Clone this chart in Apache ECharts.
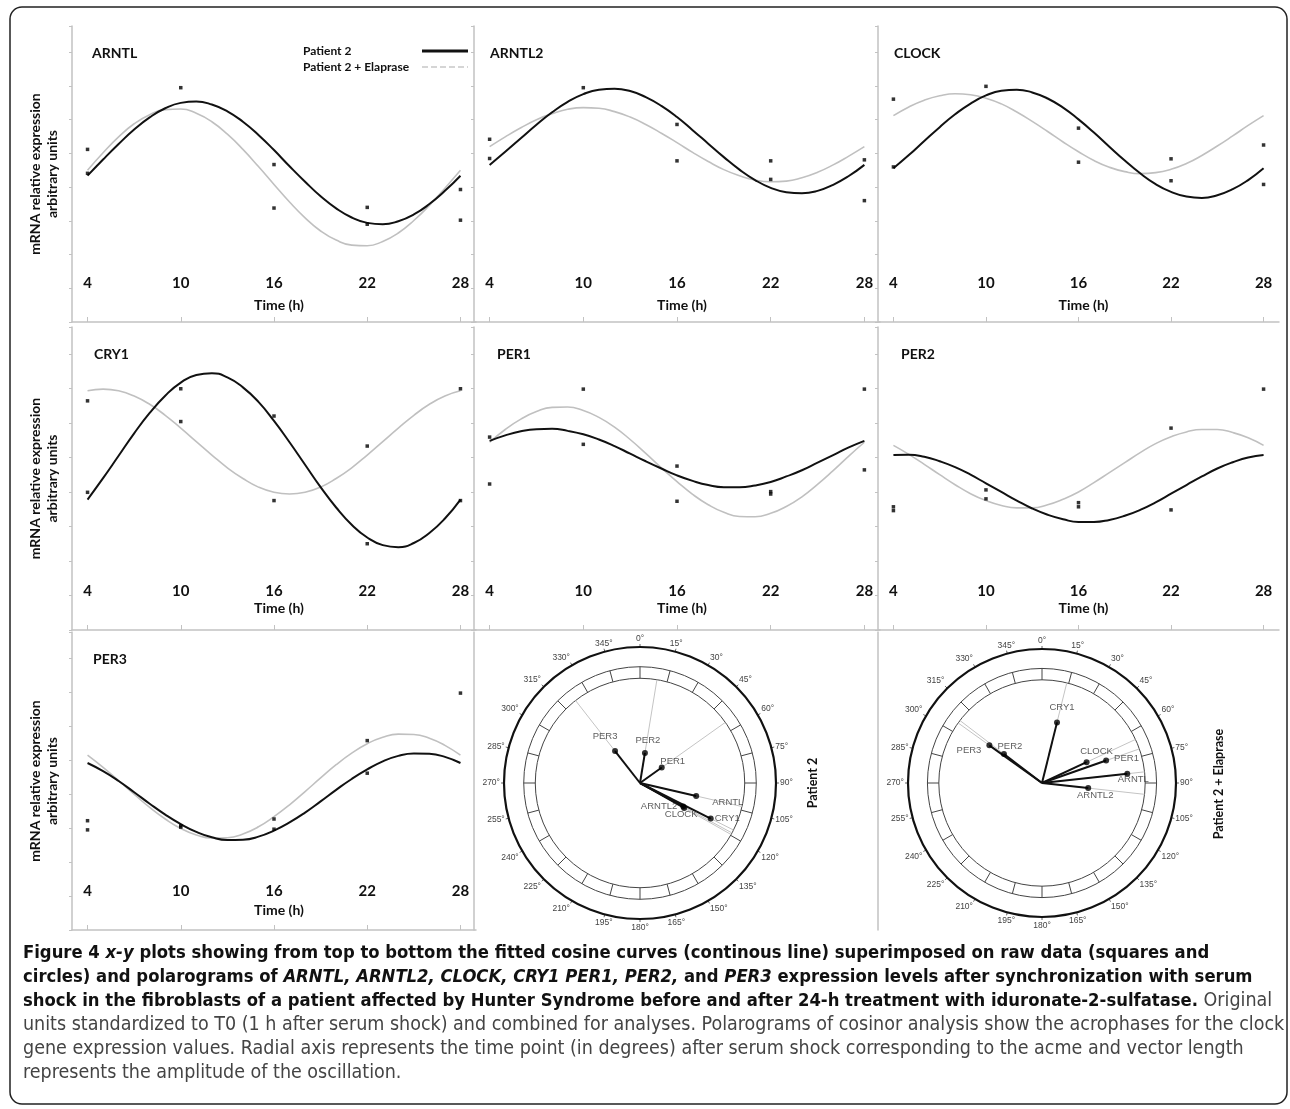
<!DOCTYPE html>
<html>
<head>
<meta charset="utf-8" />
<title>Figure 4</title>
<script src="https://cdn.jsdelivr.net/npm/echarts@6/dist/echarts.min.js"></script>
<style>
  html, body { margin: 0; padding: 0; background: #fff; }
  #main { width: 1290px; height: 1109px; }
</style>
</head>
<body>
<div id="main"></div>
<script>
// hourly sampling of the fitted cosine curves (h)
const hours = [4, 5, 6, 7, 8, 9, 10, 11, 12, 13, 14, 15, 16, 17, 18, 19, 20, 21, 22, 23, 24, 25, 26, 27, 28];
const timeTicks = [4, 10, 16, 22, 28];

// fitted curves (arbitrary units)
const arntlP2   = [4.34, 4.82, 5.28, 5.71, 6.07, 6.34, 6.50, 6.54, 6.45, 6.25, 5.94, 5.55, 5.10, 4.62, 4.16, 3.73, 3.37, 3.10, 2.94, 2.90, 2.99, 3.19, 3.50, 3.89, 4.34];
const arntlEla  = [4.50, 5.02, 5.49, 5.88, 6.15, 6.30, 6.32, 6.19, 5.94, 5.57, 5.12, 4.61, 4.08, 3.56, 3.09, 2.70, 2.43, 2.28, 2.26, 2.39, 2.64, 3.01, 3.46, 3.97, 4.50];
const arntl2P2  = [4.66, 5.05, 5.45, 5.85, 6.22, 6.53, 6.76, 6.89, 6.92, 6.85, 6.67, 6.41, 6.08, 5.69, 5.29, 4.89, 4.52, 4.21, 3.98, 3.85, 3.82, 3.89, 4.07, 4.33, 4.66];
const arntl2Ela = [5.20, 5.49, 5.76, 6.00, 6.18, 6.31, 6.36, 6.34, 6.24, 6.08, 5.86, 5.60, 5.32, 5.03, 4.76, 4.52, 4.34, 4.21, 4.16, 4.18, 4.28, 4.44, 4.66, 4.92, 5.20];
const clockP2   = [4.56, 4.95, 5.37, 5.78, 6.16, 6.48, 6.72, 6.86, 6.89, 6.81, 6.63, 6.36, 6.01, 5.62, 5.20, 4.79, 4.41, 4.09, 3.86, 3.72, 3.68, 3.76, 3.94, 4.21, 4.56];
const clockEla  = [6.12, 6.38, 6.58, 6.71, 6.77, 6.74, 6.64, 6.47, 6.23, 5.95, 5.65, 5.34, 5.05, 4.79, 4.59, 4.46, 4.40, 4.43, 4.53, 4.70, 4.94, 5.22, 5.52, 5.83, 6.12];
const cry1P2    = [3.78, 4.40, 5.05, 5.70, 6.29, 6.79, 7.17, 7.39, 7.44, 7.32, 7.03, 6.61, 6.06, 5.44, 4.79, 4.14, 3.55, 3.05, 2.68, 2.46, 2.40, 2.52, 2.81, 3.23, 3.78];
const cry1Ela   = [6.93, 6.98, 6.93, 6.78, 6.54, 6.22, 5.85, 5.46, 5.07, 4.70, 4.39, 4.14, 3.99, 3.94, 3.99, 4.14, 4.39, 4.70, 5.07, 5.46, 5.85, 6.22, 6.54, 6.78, 6.93];
const per1P2    = [5.48, 5.64, 5.76, 5.82, 5.83, 5.77, 5.67, 5.52, 5.33, 5.11, 4.89, 4.68, 4.48, 4.32, 4.20, 4.14, 4.14, 4.19, 4.29, 4.45, 4.63, 4.85, 5.07, 5.29, 5.48];
const per1Ela   = [5.44, 5.81, 6.11, 6.33, 6.45, 6.46, 6.36, 6.16, 5.88, 5.52, 5.12, 4.70, 4.30, 3.93, 3.63, 3.41, 3.29, 3.28, 3.38, 3.58, 3.86, 4.22, 4.62, 5.04, 5.44];
const per2P2    = [5.07, 5.08, 5.02, 4.89, 4.72, 4.50, 4.25, 4.00, 3.75, 3.52, 3.34, 3.21, 3.13, 3.13, 3.19, 3.31, 3.48, 3.70, 3.95, 4.20, 4.45, 4.68, 4.86, 5.00, 5.07];
const per2Ela   = [5.35, 5.09, 4.80, 4.50, 4.21, 3.95, 3.75, 3.61, 3.54, 3.54, 3.63, 3.79, 4.00, 4.27, 4.56, 4.85, 5.14, 5.40, 5.60, 5.74, 5.81, 5.81, 5.72, 5.57, 5.35];
const per3P2    = [4.92, 4.68, 4.39, 4.06, 3.72, 3.40, 3.12, 2.89, 2.73, 2.65, 2.66, 2.75, 2.93, 3.17, 3.46, 3.79, 4.13, 4.45, 4.73, 4.97, 5.13, 5.20, 5.19, 5.10, 4.92];
const per3Ela   = [5.15, 4.79, 4.40, 4.00, 3.61, 3.27, 2.99, 2.80, 2.71, 2.72, 2.83, 3.04, 3.34, 3.69, 4.08, 4.48, 4.87, 5.21, 5.49, 5.68, 5.77, 5.76, 5.65, 5.44, 5.15];

// raw data points [time, value]
const arntlRaw  = [[4, 5.12], [4, 4.41], [10, 6.95], [16, 4.67], [16, 3.38], [22, 3.40], [22, 2.90], [28, 3.93], [28, 3.02]];
const arntl2Raw = [[4, 5.42], [4, 4.85], [10, 6.95], [16, 5.86], [16, 4.78], [22, 4.78], [22, 4.23], [28, 4.81], [28, 3.60]];
const clockRaw  = [[4, 6.61], [4, 4.60], [10, 6.99], [16, 5.75], [16, 4.74], [22, 4.84], [22, 4.19], [28, 5.25], [28, 4.08]];
const cry1Raw   = [[4, 6.64], [4, 3.99], [10, 6.99], [10, 6.04], [16, 6.20], [16, 3.75], [22, 5.33], [22, 2.50], [28, 6.99], [28, 3.75]];
const per1Raw   = [[4, 5.59], [4, 4.23], [10, 6.98], [10, 5.38], [16, 4.75], [16, 3.73], [22, 4.01], [22, 3.94], [28, 6.98], [28, 4.64]];
const per2Raw   = [[4, 3.57], [4, 3.46], [10, 4.06], [10, 3.80], [16, 3.69], [16, 3.57], [22, 5.85], [22, 3.48], [28, 6.98]];
const per3Raw   = [[4, 3.22], [4, 2.95], [10, 3.07], [10, 3.03], [16, 3.27], [16, 2.97], [22, 5.58], [22, 4.62], [28, 6.98]];

// polarograms: acrophase (deg) and amplitude (fraction of outer circle)
const genes    = ['ARNTL', 'ARNTL2', 'CLOCK', 'CRY1', 'PER1', 'PER2', 'PER3'];
const p2Phase  = [103, 118.5, 119.5, 116.7, 54.6, 9.3, 322];
const p2Amp    = [0.424, 0.362, 0.373, 0.582, 0.196, 0.224, 0.298];
const elaPhase = [83.8, 96.3, 65, 13.9, 70.7, 307.3, 305.6];
const elaAmp   = [0.640, 0.347, 0.367, 0.466, 0.507, 0.357, 0.483];

const FONT = 'Lato, "Open Sans", sans-serif';
const NARROW = '"Liberation Sans Narrow", "DejaVu Sans Condensed", sans-serif';
const ARIAL = '"Liberation Sans", Arial, sans-serif';
const AXIS_GRAY = '#c2c2c2';

const panels = [
  { gene: 'ARNTL',  p2: arntlP2,  ela: arntlEla,  raw: arntlRaw,  titleX: 87 },
  { gene: 'ARNTL2', p2: arntl2P2, ela: arntl2Ela, raw: arntl2Raw, titleX: 485 },
  { gene: 'CLOCK',  p2: clockP2,  ela: clockEla,  raw: clockRaw,  titleX: 889 },
  { gene: 'CRY1',   p2: cry1P2,   ela: cry1Ela,   raw: cry1Raw,   titleX: 89 },
  { gene: 'PER1',   p2: per1P2,   ela: per1Ela,   raw: per1Raw,   titleX: 492 },
  { gene: 'PER2',   p2: per2P2,   ela: per2Ela,   raw: per2Raw,   titleX: 896 },
  { gene: 'PER3',   p2: per3P2,   ela: per3Ela,   raw: per3Raw,   titleX: 88 }
];

const colLeft = [72, 474, 878];
const colWidth = [404, 406, 401];
const rowTop = [26, 327, 632];
const rowHeight = [296, 303, 298];
const timeNameY = [293, 596, 898];

// label placement of the gene names in the polarograms
const p2Labels = [
  { position: 'right', offset: [8, 6] },
  { position: 'left', offset: [2, 0] },
  { position: 'bottom', offset: [-3, -7] },
  { position: 'right', offset: [-4, 0] },
  { position: 'top', offset: [11, 7] },
  { position: 'top', offset: [3, 0] },
  { position: 'top', offset: [-10, -2] }
];
const elaLabels = [
  { position: 'bottom', offset: [6, -7] },
  { position: 'bottom', offset: [7, -6] },
  { position: 'top', offset: [10, 2] },
  { position: 'top', offset: [5, -2] },
  { position: 'right', offset: [0, -2] },
  { position: 'top', offset: [6, 5] },
  { position: 'left', offset: [0, 5] }
];

const chart = echarts.init(document.getElementById('main'));

const grid = [], xAxis = [], yAxis = [], title = [], series = [];

panels.forEach(function (p, i) {
  const row = Math.floor(i / 3), col = i % 3;
  grid.push({ left: colLeft[col], top: rowTop[row], width: colWidth[col], height: rowHeight[row] });
  xAxis.push({
    gridIndex: i, type: 'value', min: 3, max: 29,
    axisLine: { lineStyle: { color: AXIS_GRAY, width: 1.5 } },
    axisTick: { inside: true, length: 5, customValues: timeTicks, lineStyle: { color: AXIS_GRAY } },
    axisLabel: { inside: true, margin: 31, customValues: timeTicks, fontFamily: FONT, fontWeight: 'bold', fontSize: 15, color: '#111' },
    splitLine: { show: false }
  });
  yAxis.push({
    gridIndex: i, type: 'value', min: 0, max: 8.78, interval: 1,
    name: col === 0 ? 'mRNA relative expression\narbitrary units' : '',
    nameLocation: 'middle', nameGap: 11,
    nameTextStyle: { fontFamily: FONT, fontWeight: 'bold', fontSize: 14, lineHeight: 17, color: '#111' },
    axisLine: { show: true, lineStyle: { color: AXIS_GRAY, width: 1.5 } },
    axisTick: { show: true, length: 3, lineStyle: { color: AXIS_GRAY } },
    axisLabel: { show: false },
    splitLine: { show: false }
  });
  title.push({
    text: p.gene, left: p.titleX, top: rowTop[row] + 15,
    textStyle: { fontFamily: FONT, fontWeight: 'bold', fontSize: 14, color: '#111' }
  });
  title.push({
    text: 'Time (h)', left: colLeft[col] + colWidth[col] / 2, textAlign: 'center', top: timeNameY[row],
    textStyle: { fontFamily: FONT, fontWeight: 'bold', fontSize: 14, color: '#111' }
  });
  series.push({
    name: 'Patient 2 + Elaprase', type: 'line', xAxisIndex: i, yAxisIndex: i,
    data: hours.map(function (h, k) { return [h, p.ela[k]]; }),
    smooth: true, symbol: 'none', z: 2,
    itemStyle: { color: '#c0c0c0' },
    lineStyle: { color: '#c0c0c0', width: 1.6 }
  });
  series.push({
    name: 'Patient 2', type: 'line', xAxisIndex: i, yAxisIndex: i,
    data: hours.map(function (h, k) { return [h, p.p2[k]]; }),
    smooth: true, symbol: 'none', z: 3,
    itemStyle: { color: '#111' },
    lineStyle: { color: '#111', width: 2 }
  });
  series.push({
    name: 'raw', type: 'scatter', xAxisIndex: i, yAxisIndex: i,
    data: p.raw, symbol: 'rect', symbolSize: 3.5, z: 4,
    itemStyle: { color: '#000' }
  });
});

// left frame lines of the two polarogram panels
[1, 2].forEach(function (col) {
  const gi = grid.length;
  grid.push({ left: colLeft[col], top: rowTop[2], width: colWidth[col], height: rowHeight[2] });
  xAxis.push({ gridIndex: gi, type: 'value', min: 0, max: 1, show: false });
  yAxis.push({
    gridIndex: gi, type: 'value', min: 0, max: 1,
    axisLine: { show: true, lineStyle: { color: AXIS_GRAY, width: 1.5 } },
    axisTick: { show: false }, axisLabel: { show: false }, splitLine: { show: false }
  });
});

// polar systems: outer circle with degree labels, and the segmented ring
const polarSpec = [
  { center: [640, 783], r: 136, phase: p2Phase, amp: p2Amp, labels: p2Labels },
  { center: [1042, 783], r: 134, phase: elaPhase, amp: elaAmp, labels: elaLabels }
];
const ringIn = 0.77, ringOut = 0.855;
const polar = [], angleAxis = [], radiusAxis = [];

polarSpec.forEach(function (ps) {
  const outerIdx = polar.length;
  polar.push({ center: ps.center, radius: ps.r });
  polar.push({ center: ps.center, radius: [ps.r * ringIn, ps.r * ringOut] });
  angleAxis.push({
    polarIndex: outerIdx, type: 'value', min: 0, max: 360, interval: 15,
    startAngle: 90, clockwise: true,
    axisLine: { lineStyle: { color: '#111', width: 2.2 } },
    axisTick: { show: true, length: 3, lineStyle: { color: '#666' } },
    axisLabel: {
      margin: 4, fontFamily: ARIAL, fontSize: 8.5, color: '#444',
      formatter: function (v) { return v === 360 ? '' : v + '°'; }
    },
    splitLine: { show: false }
  });
  angleAxis.push({
    polarIndex: outerIdx + 1, type: 'value', min: 0, max: 360, interval: 15,
    startAngle: 90, clockwise: true,
    axisLine: { lineStyle: { color: '#444', width: 1 } },
    axisTick: { show: false }, axisLabel: { show: false },
    splitLine: { show: true, lineStyle: { color: '#444', width: 1 } }
  });
  radiusAxis.push({ polarIndex: outerIdx, type: 'value', min: 0, max: 1, show: false });
  radiusAxis.push({ polarIndex: outerIdx + 1, type: 'value', min: 0, max: 1, show: false });

  genes.forEach(function (g, j) {
    series.push({
      name: 'ray', type: 'line', coordinateSystem: 'polar', polarIndex: outerIdx,
      data: [[0, ps.phase[j]], [ringIn, ps.phase[j]]],
      symbol: 'none', z: 2, lineStyle: { color: '#c4c4c4', width: 1 }
    });
    series.push({
      name: 'vector', type: 'line', coordinateSystem: 'polar', polarIndex: outerIdx,
      data: [[0, ps.phase[j]], [ps.amp[j], ps.phase[j]]],
      symbol: 'none', z: 3, lineStyle: { color: '#111', width: 2 }
    });
  });
  series.push({
    name: 'acrophase', type: 'scatter', coordinateSystem: 'polar', polarIndex: outerIdx,
    symbolSize: 6, z: 4, itemStyle: { color: '#000' },
    data: genes.map(function (g, j) {
      return {
        name: g, value: [ps.amp[j], ps.phase[j]],
        label: {
          show: true, formatter: '{b}', position: ps.labels[j].position, offset: ps.labels[j].offset,
          fontFamily: ARIAL, fontSize: 9.5, color: '#333'
        }
      };
    })
  });
});

const caption =
  '{b|Figure 4 }{bi|x-y}{b| plots showing from top to bottom the fitted cosine curves (continous line) superimposed on raw data (squares and}\n' +
  '{b|circles) and polarograms of }{bi|ARNTL, ARNTL2, CLOCK, CRY1 PER1, PER2,}{b| and }{bi|PER3}{b| expression levels after synchronization with serum}\n' +
  '{b|shock in the fibroblasts of a patient affected by Hunter Syndrome before and after 24-h treatment with iduronate-2-sulfatase.}{r| Original}\n' +
  '{r|units standardized to T0 (1 h after serum shock) and combined for analyses. Polarograms of cosinor analysis show the acrophases for the clock}\n' +
  '{r|gene expression values. Radial axis represents the time point (in degrees) after serum shock corresponding to the acme and vector length}\n' +
  '{r|represents the amplitude of the oscillation.}';

title.push({
  text: caption, left: 18, top: 936,
  textStyle: {
    rich: {
      b: { fontFamily: NARROW, fontWeight: 'bold', fontSize: 18.3, lineHeight: 24, color: '#111' },
      bi: { fontFamily: NARROW, fontWeight: 'bold', fontStyle: 'italic', fontSize: 18.3, lineHeight: 24, color: '#111' },
      r: { fontFamily: NARROW, fontWeight: 'normal', fontSize: 19.5, lineHeight: 24, color: '#444' }
    }
  }
});

const option = {
  animation: false,
  backgroundColor: '#fff',
  textStyle: { fontFamily: FONT },
  title: title,
  legend: {
    left: 298, top: 40, orient: 'vertical', align: 'right',
    itemWidth: 46, itemHeight: 12, itemGap: 4, selectedMode: false,
    formatter: '{t|{name}}',
    textStyle: {
      rich: { t: { width: 114, align: 'left', fontFamily: FONT, fontWeight: 'bold', fontSize: 12, color: '#111' } }
    },
    data: [
      { name: 'Patient 2', lineStyle: { color: '#111', width: 3 },
        itemStyle: { color: 'rgba(0,0,0,0)', borderWidth: 0, opacity: 0 } },
      { name: 'Patient 2 + Elaprase', lineStyle: { color: '#c8c8c8', width: 1.5, type: 'dashed' },
        itemStyle: { color: 'rgba(0,0,0,0)', borderWidth: 0, opacity: 0 } }
    ]
  },
  grid: grid,
  xAxis: xAxis,
  yAxis: yAxis,
  polar: polar,
  angleAxis: angleAxis,
  radiusAxis: radiusAxis,
  graphic: [
    {
      type: 'rect', silent: true, z: 100,
      shape: { x: 10, y: 7, width: 1277, height: 1097, r: 12 },
      style: { fill: 'none', stroke: '#222', lineWidth: 1.5 }
    },
    {
      type: 'text', x: 813, y: 783, rotation: Math.PI / 2, silent: true,
      style: { text: 'Patient 2', font: 'bold 12.5px ' + FONT, fill: '#111', align: 'center', verticalAlign: 'middle' }
    },
    {
      type: 'text', x: 1219, y: 784, rotation: Math.PI / 2, silent: true,
      style: { text: 'Patient 2 + Elaprase', font: 'bold 12.5px ' + FONT, fill: '#111', align: 'center', verticalAlign: 'middle' }
    }
  ],
  series: series
};

chart.setOption(option);
</script>
</body>
</html>
